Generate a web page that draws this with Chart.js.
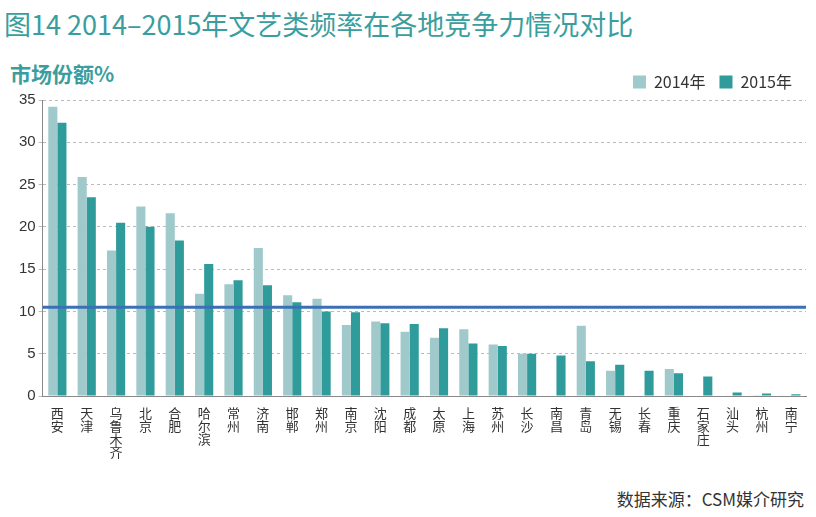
<!DOCTYPE html>
<html><head><meta charset="utf-8">
<script src="https://cdn.jsdelivr.net/npm/chart.js@4"></script>
<style>
body{margin:0;width:816px;height:517px;background:#fff;font-family:"Noto Sans CJK SC",sans-serif;position:relative;overflow:hidden}
#title{position:absolute;left:4px;top:4px;font-size:27px;color:#3a9e9e;letter-spacing:0px}
#ytitle{position:absolute;left:10px;top:58px;font-size:21px;font-weight:bold;color:#3a9e9e}
#src{position:absolute;right:12px;top:486px;font-size:17px;color:#333}
#wrap{position:absolute;left:0;top:60px;width:812px;height:402px}
</style></head><body>
<div id="title">图14 2014–2015年文艺类频率在各地竞争力情况对比</div>
<div id="ytitle">市场份额%</div>
<div id="wrap"><canvas id="c"></canvas></div>
<div id="src">数据来源：CSM媒介研究</div>
<script>
const cities = ['西安','天津','乌鲁木齐','北京','合肥','哈尔滨','常州','济南','邯郸','郑州','南京','沈阳','成都','太原','上海','苏州','长沙','南昌','青岛','无锡','长春','重庆','石家庄','汕头','杭州','南宁'];
const share2014 = [34.2,25.9,17.2,22.4,21.6,12.1,13.2,17.5,11.9,11.5,8.4,8.8,7.6,6.9,7.9,6.1,5.0,0,8.3,3.0,0,3.2,0,0,0.1,0];
const share2015 = [32.3,23.5,20.5,20.0,18.4,15.6,13.7,13.1,11.1,10.0,9.9,8.6,8.5,8.0,6.2,5.9,5.0,4.8,4.1,3.7,3.0,2.7,2.3,0.4,0.3,0.2];
const average = 10.5;
const yTicks = [0,5,10,15,20,25,30,35];

const avgLine = {
  id: 'avgLine',
  afterDatasetsDraw(chart) {
    const {ctx, chartArea, scales} = chart;
    const y = scales.y.getPixelForValue(average);
    ctx.save();
    ctx.strokeStyle = '#3b6fb6';
    ctx.lineWidth = 3;
    ctx.beginPath();
    ctx.moveTo(chartArea.left, y);
    ctx.lineTo(chartArea.right, y);
    ctx.stroke();
    ctx.restore();
  }
};

new Chart(document.getElementById('c'), {
  type: 'bar',
  data: {
    labels: cities.map(c => c.split('')),
    datasets: [
      {label: '2014年', data: share2014, backgroundColor: '#9fc9ca', categoryPercentage: 0.62, barPercentage: 1},
      {label: '2015年', data: share2015, backgroundColor: '#2f9b9b', categoryPercentage: 0.62, barPercentage: 1}
    ]
  },
  options: {
    responsive: true, maintainAspectRatio: false, animation: false,
    layout: {padding: {left: 16, right: 6}},
    plugins: {
      tooltip: {enabled: false},
      legend: {position: 'top', align: 'end',
        labels: {boxWidth: 13, boxHeight: 13, font: {size: 16, family: 'Noto Sans CJK SC'}, color: '#333', padding: 14}}
    },
    scales: {
      x: {grid: {display: false}, border: {color: '#888'},
        ticks: {color: '#333', font: {size: 13, family: 'Noto Sans CJK SC', lineHeight: 1.0}, maxRotation: 0, autoSkip: false}},
      y: {min: 0, max: 35, afterBuildTicks: a => { a.ticks = yTicks.map(v => ({value: v})); },
        grid: {color: '#bbb', tickLength: 4, drawTicks: true}, border: {dash: [3,3], color: '#888'},
        ticks: {color: '#333', font: {size: 15}}}
    }
  },
  plugins: [avgLine]
});
</script>
</body></html>
